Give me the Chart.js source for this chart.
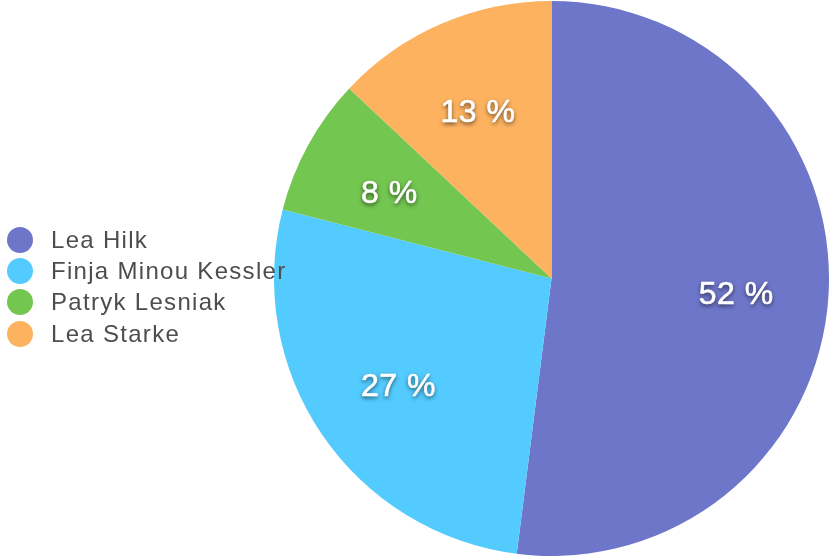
<!DOCTYPE html>
<html>
<head>
<meta charset="utf-8">
<script src="https://cdn.jsdelivr.net/npm/chart.js@4.4.0/dist/chart.umd.min.js"></script>
<style>
  html, body { margin: 0; padding: 0; background: #fff; }
  #wrap { position: relative; width: 832px; height: 558px; }
  #legend { position: absolute; left: 7px; top: 224px; font-family: "Liberation Sans", Arial, sans-serif; font-size: 24px; letter-spacing: 1.3px; color: #4d4d4d; }
  .item { display: flex; align-items: center; height: 31.3px; white-space: nowrap; }
  .dot { width: 26px; height: 26px; border-radius: 50%; margin-right: 18px; flex: none; }
</style>
</head>
<body>
<div id="wrap">
  <canvas id="c" width="832" height="558"></canvas>
  <div id="legend"></div>
</div>
<script>
const categories = ["Lea Hilk", "Finja Minou Kessler", "Patryk Lesniak", "Lea Starke"];
const shares = [52, 27, 8, 13];
const colors = ["#6E76C9", "#53CBFE", "#73C650", "#FDB25F"];

const labelPlugin = {
  id: 'pctLabels',
  afterDatasetsDraw(chart) {
    const ctx = chart.ctx;
    const meta = chart.getDatasetMeta(0);
    ctx.save();
    ctx.font = '32px "Liberation Sans", Arial, sans-serif';
    if ('letterSpacing' in ctx) ctx.letterSpacing = '0.5px';
    ctx.fillStyle = '#ffffff';
    ctx.textAlign = 'center';
    ctx.textBaseline = 'middle';
    ctx.shadowColor = 'rgba(0,0,0,0.7)';
    ctx.shadowBlur = 4;
    ctx.shadowOffsetX = 0;
    ctx.shadowOffsetY = 2;
    meta.data.forEach((arc, i) => {
      const p = arc.getProps(['x', 'y', 'startAngle', 'endAngle', 'outerRadius'], true);
      const mid = (p.startAngle + p.endAngle) / 2;
      const r = p.outerRadius * 0.667;
      const x = p.x + Math.cos(mid) * r;
      const y = p.y + Math.sin(mid) * r + 5;
      ctx.fillText(shares[i] + ' %', x, y);
      ctx.shadowColor = 'transparent';
      ctx.lineWidth = 0.6;
      ctx.strokeStyle = '#ffffff';
      ctx.strokeText(shares[i] + ' %', x, y);
      ctx.shadowColor = 'rgba(0,0,0,0.7)';
    });
    ctx.restore();
  }
};

new Chart(document.getElementById('c'), {
  type: 'pie',
  data: {
    labels: categories,
    datasets: [{
      data: shares,
      backgroundColor: colors,
      borderWidth: 0,
      hoverOffset: 0
    }]
  },
  options: {
    responsive: false,
    animation: false,
    layout: { padding: { left: 274, right: 3, top: 1, bottom: 2 } },
    plugins: { legend: { display: false }, tooltip: { enabled: false } }
  },
  plugins: [labelPlugin]
});

const lg = document.getElementById('legend');
categories.forEach((name, i) => {
  const it = document.createElement('div');
  it.className = 'item';
  const d = document.createElement('span');
  d.className = 'dot';
  d.style.background = colors[i];
  const t = document.createElement('span');
  t.textContent = name;
  it.appendChild(d);
  it.appendChild(t);
  lg.appendChild(it);
});
</script>
</body>
</html>
